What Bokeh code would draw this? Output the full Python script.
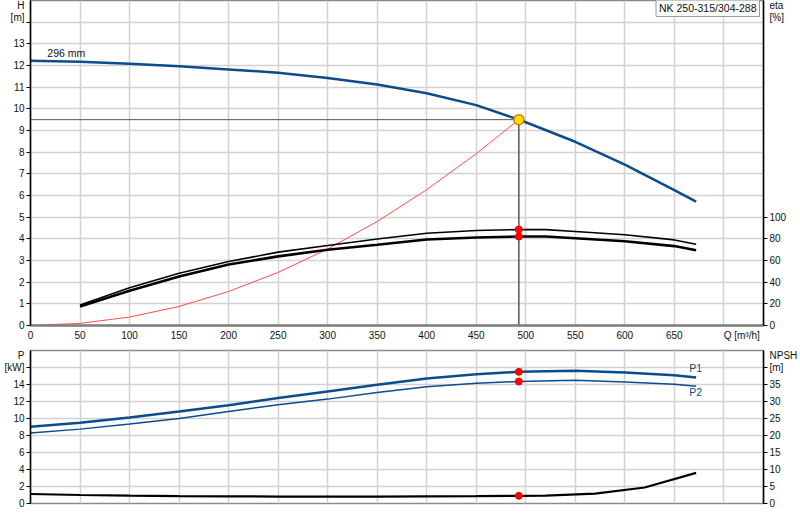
from bokeh.plotting import figure
from bokeh.models import Range1d, LinearAxis, FixedTicker, Label
from bokeh.layouts import column
from bokeh.embed import file_html
from bokeh.resources import INLINE

# ---------------- data ----------------
q_ticks = list(range(0, 701, 50))
h_ticks = list(range(0, 16))
eta_ticks = [0, 20, 40, 60, 80, 100]
p_ticks = list(range(0, 19, 2))
npsh_ticks = [0, 5, 10, 15, 20, 25, 30, 35, 40]

q_h = [0, 50, 100, 150, 200, 250, 300, 350, 400, 450, 493, 500, 550, 600, 650, 672]
h_curve = [12.22, 12.17, 12.08, 11.96, 11.82, 11.67, 11.42, 11.12, 10.72, 10.17,
           9.5, 9.38, 8.48, 7.42, 6.25, 5.72]

q_sys = [0, 50, 100, 150, 200, 250, 300, 350, 400, 450, 493]
h_sys = [0, 0.1, 0.39, 0.88, 1.57, 2.45, 3.53, 4.8, 6.27, 7.93, 9.5]

q_eta = [50, 100, 150, 200, 250, 300, 350, 400, 450, 493, 520, 550, 600, 650, 672]
eta_upper = [19, 34.8, 48.3, 59, 67.7, 73.8, 79.8, 85.2, 87.7, 88.6, 88.5, 86.8, 83.7, 79, 75]
eta_lower = [17.5, 32, 45.2, 56.3, 63.8, 69.9, 74.5, 79.4, 81.2, 82.1, 82.1, 80.6, 77.8, 73.3, 69.5]

q_p = [0, 50, 100, 150, 200, 250, 300, 350, 400, 450, 493, 550, 600, 650, 672]
p1 = [9.02, 9.49, 10.12, 10.82, 11.57, 12.4, 13.18, 13.96, 14.7, 15.22, 15.49, 15.61, 15.41, 15.1, 14.82]
p2 = [8.28, 8.75, 9.34, 10.0, 10.82, 11.61, 12.28, 13.06, 13.73, 14.16, 14.35, 14.51, 14.28, 14.04, 13.8]

q_npsh = [0, 50, 100, 150, 200, 250, 300, 350, 400, 450, 493, 520, 570, 620, 672]
npsh = [2.8, 2.5, 2.3, 2.15, 2.1, 2.05, 2.05, 2.05, 2.1, 2.15, 2.25, 2.3, 2.9, 4.7, 9.0]

q_op = 493
h_op = 9.5
eta_op = [88.6, 82.1]
p_op = [15.49, 14.35]
npsh_op = 2.25

pump_name = "NK 250-315/304-288"
impeller = "296 mm"

# axis title texts and the axis value where each one sits
q_title, q_title_at = "Q [m³/h]", 718
h_title = {14.77: "H", 14.21: "[m]"}
eta_title = {295.4: "eta", 284.2: "[%]"}
p_title = {17.4: "P", 16: "[kW]"}
npsh_title = {43.4: "NPSH", 40: "[m]"}

Q_MIN, Q_MAX = 0, 740

# ---------------- style ----------------
FONT = "Liberation Sans"
FS = "10.5px"
AXFS = "10px"
BLUE = "#0b4c8c"
GRID = "#d2d2d2"


def style_axis(ax, line_color="black", line_width=1.5, tick=4, standoff=2):
    ax.axis_line_color = line_color
    ax.axis_line_width = line_width
    # label positions carry no mark; the tick marks are drawn as minor ticks
    ax.major_tick_line_color = None
    ax.major_tick_out = 0
    ax.major_tick_in = 0
    ax.minor_tick_line_color = "black" if tick else None
    ax.minor_tick_line_width = 1
    ax.minor_tick_out = tick
    ax.minor_tick_in = 0
    ax.major_label_text_font = FONT
    ax.major_label_text_font_size = AXFS
    ax.major_label_text_color = "#111111"
    ax.major_label_standoff = standoff


def base_figure(height, ymax, border_top, border_bottom):
    f = figure(width=800, height=height, x_range=Range1d(Q_MIN, Q_MAX), y_range=Range1d(0, ymax),
               output_backend="svg", toolbar_location=None,
               min_border_left=30, min_border_right=37,
               min_border_top=border_top, min_border_bottom=border_bottom)
    f.outline_line_color = "#8a8a8a"
    f.outline_line_width = 1.5
    f.background_fill_color = "white"
    f.border_fill_color = "white"
    for g in (f.xgrid, f.ygrid):
        g.grid_line_color = GRID
        g.grid_line_width = 1.5
    return f


def lab(f, x, y, text, align="left", color="#111111"):
    f.add_layout(Label(x=x, y=y, text=text, text_align=align, text_baseline="middle",
                       text_font=FONT, text_font_size=FS, text_color=color))


# ---------------- top chart ----------------
top = base_figure(345, 15, 0, 20)
top.xaxis.ticker = FixedTicker(ticks=q_ticks[:-1] + [q_title_at], minor_ticks=[])
top.xaxis.major_label_overrides = {q_title_at: q_title}
style_axis(top.xaxis[0], "#808080", 2.5, tick=0, standoff=4)

top.yaxis.ticker = FixedTicker(ticks=[t for t in h_ticks if t <= 13] + list(h_title),
                               minor_ticks=[t for t in h_ticks if t <= 14])
top.yaxis.major_label_overrides = dict(h_title)
style_axis(top.yaxis[0])
top.xgrid.ticker = FixedTicker(ticks=q_ticks)
top.ygrid.ticker = FixedTicker(ticks=h_ticks)

top.extra_y_ranges = {"eta": Range1d(0, 300)}
eta_axis = LinearAxis(y_range_name="eta",
                      ticker=FixedTicker(ticks=eta_ticks + list(eta_title), minor_ticks=eta_ticks))
eta_axis.major_label_overrides = dict(eta_title)
style_axis(eta_axis)
top.add_layout(eta_axis, "right")

top.line(q_sys, h_sys, line_color="#ff4d4d", line_width=1)
top.line([0, q_op], [h_op, h_op], line_color="#555555", line_width=1)
top.line([q_op, q_op], [0, h_op], line_color="#555555", line_width=1.5)
top.line(q_h, h_curve, line_color=BLUE, line_width=2.5)
top.line(q_eta, eta_upper, y_range_name="eta", line_color="black", line_width=1.6)
top.line(q_eta, eta_lower, y_range_name="eta", line_color="black", line_width=2.6)
top.scatter([q_op, q_op], eta_op, y_range_name="eta", size=7, color="#ff0000")
top.scatter([q_op], [h_op], size=10, fill_color="#ffe400", line_color="#e07800", line_width=1.5)

lab(top, 17, 12.6, impeller)
top.add_layout(Label(x=Q_MAX, y=15, x_offset=-4, y_offset=2, text=pump_name,
                     text_align="right", text_baseline="top",
                     text_font=FONT, text_font_size=FS, text_color="#111111",
                     border_line_color="#9a9a9a", border_line_width=1,
                     background_fill_color="white", padding=3))

# ---------------- bottom chart ----------------
bot = base_figure(168, 18, 5, 10)
bot.xaxis.visible = False
bot.xgrid.ticker = FixedTicker(ticks=q_ticks)
bot.yaxis.ticker = FixedTicker(ticks=[t for t in p_ticks if t <= 14] + list(p_title),
                               minor_ticks=[t for t in p_ticks if t <= 16])
bot.yaxis.major_label_overrides = dict(p_title)
style_axis(bot.yaxis[0])
bot.ygrid.ticker = FixedTicker(ticks=p_ticks)

bot.extra_y_ranges = {"npsh": Range1d(0, 45)}
npsh_axis = LinearAxis(y_range_name="npsh",
                       ticker=FixedTicker(ticks=[t for t in npsh_ticks if t <= 35] + list(npsh_title),
                                          minor_ticks=npsh_ticks))
npsh_axis.major_label_overrides = dict(npsh_title)
style_axis(npsh_axis)
bot.add_layout(npsh_axis, "right")

bot.line(q_p, p1, line_color=BLUE, line_width=2.5)
bot.line(q_p, p2, line_color=BLUE, line_width=1.5)
bot.line(q_npsh, npsh, y_range_name="npsh", line_color="black", line_width=2.2)
bot.scatter([q_op, q_op], p_op, size=7, color="#ff0000")
bot.scatter([q_op], [npsh_op], y_range_name="npsh", size=7, color="#ff0000")

lab(bot, 665, 15.96, "P1", color=BLUE)
lab(bot, 665, 13.14, "P2", color=BLUE)

layout = column(top, bot, spacing=0)
open("out.html", "w").write(file_html(layout, INLINE))
